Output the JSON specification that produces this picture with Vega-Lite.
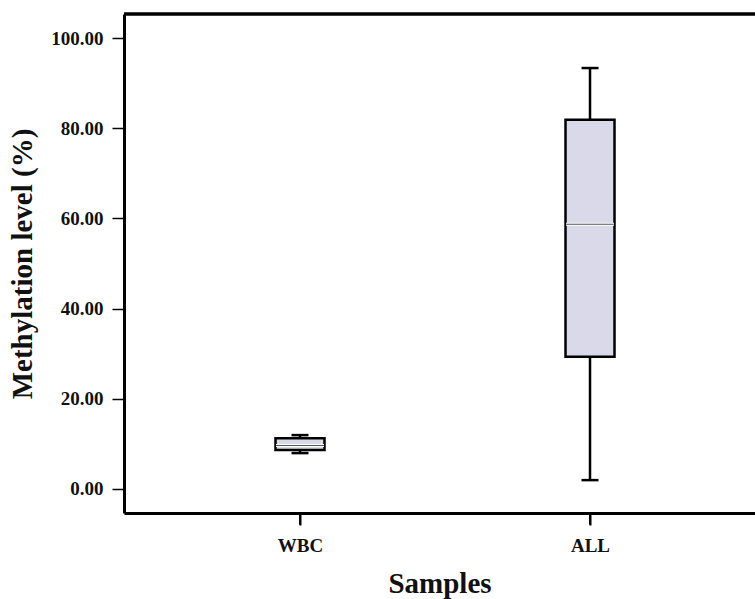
{
  "$schema": "https://vega.github.io/schema/vega-lite/v6.json",
  "width": 631,
  "height": 499,
  "autosize": {"type": "none"},
  "padding": {"left": 124, "top": 14, "right": 0, "bottom": 86},
  "background": "white",
  "config": {"view": {"stroke": null}, "font": "Liberation Serif"},
  "data": {
    "values": [
      {"sample": "WBC", "min": 7.9, "q1": 8.6, "median": 9.6, "q3": 11.2, "max": 11.9},
      {"sample": "ALL", "min": 1.9, "q1": 29.3, "median": 58.7, "q3": 81.9, "max": 93.4}
    ]
  },
  "layer": [
    {
      "mark": {"type": "rule", "strokeWidth": 2.5, "color": "black"},
      "encoding": {
        "x": {
          "field": "sample", "type": "nominal", "sort": ["WBC", "ALL"],
          "scale": {"type": "band", "paddingInner": 0, "paddingOuter": 0.0879, "align": 0.608},
          "axis": {
            "labelAngle": 0, "domainColor": "black", "domainWidth": 3, "ticks": true, "bandPosition": 0.5, "tickOffset": 0, "tickColor": "#000000", "tickOpacity": 1, "tickWidth": 2, "tickSize": 12,
            "labelFont": "Liberation Serif", "labelFontWeight": "bold", "labelFontSize": 19, "labelColor": "#111", "labelPadding": 11,
            "title": "Samples", "titleFont": "Liberation Serif", "titleFontSize": 29, "titleFontWeight": "bold", "titleColor": "#111", "titlePadding": 14
          }
        },
        "y": {
          "field": "min", "type": "quantitative",
          "scale": {"domain": [-5.4, 105.4], "nice": false, "zero": false},
          "axis": {
            "values": [0, 20, 40, 60, 80, 100], "format": ".2f", "grid": false,
            "domainColor": "black", "domainWidth": 3, "tickColor": "black", "tickWidth": 1.5, "tickSize": 12,
            "labelFont": "Liberation Serif", "labelFontWeight": "bold", "labelFontSize": 19, "labelColor": "#111", "labelPadding": 9,
            "title": "Methylation level (%)", "titleFont": "Liberation Serif", "titleFontSize": 29, "titleFontWeight": "bold", "titleColor": "#111", "titlePadding": 13
          }
        },
        "y2": {"field": "max"}
      }
    },
    {
      "mark": {"type": "rule", "strokeWidth": 2, "color": "black"},
      "encoding": {
        "x": {"field": "sample", "type": "nominal", "sort": ["WBC", "ALL"]},
        "y": {"datum": -5.4, "type": "quantitative"},
        "y2": {"datum": -8.0}
      }
    },
    {
      "mark": {"type": "bar", "width": 49, "fill": "#d9d9ea", "stroke": "black", "strokeWidth": 2.5},
      "encoding": {
        "x": {"field": "sample", "type": "nominal", "sort": ["WBC", "ALL"]},
        "y": {"field": "q1", "type": "quantitative"},
        "y2": {"field": "q3"}
      }
    },
    {
      "mark": {"type": "tick", "size": 48, "thickness": 3, "color": "white", "opacity": 1},
      "encoding": {
        "x": {"field": "sample", "type": "nominal", "sort": ["WBC", "ALL"]},
        "y": {"field": "median", "type": "quantitative"}
      }
    },
    {
      "mark": {"type": "tick", "size": 48, "thickness": 1, "color": "#555", "opacity": 1},
      "encoding": {
        "x": {"field": "sample", "type": "nominal", "sort": ["WBC", "ALL"]},
        "y": {"field": "median", "type": "quantitative"}
      }
    },
    {
      "mark": {"type": "tick", "size": 17, "thickness": 2.5, "color": "black", "opacity": 1},
      "encoding": {
        "x": {"field": "sample", "type": "nominal", "sort": ["WBC", "ALL"]},
        "y": {"field": "min", "type": "quantitative"}
      }
    },
    {
      "mark": {"type": "tick", "size": 17, "thickness": 2.5, "color": "black", "opacity": 1},
      "encoding": {
        "x": {"field": "sample", "type": "nominal", "sort": ["WBC", "ALL"]},
        "y": {"field": "max", "type": "quantitative"}
      }
    },
    {
      "mark": {"type": "rule", "strokeWidth": 3, "color": "black"},
      "encoding": {
        "y": {"datum": 105.4, "type": "quantitative"}
      }
    }
  ]
}
